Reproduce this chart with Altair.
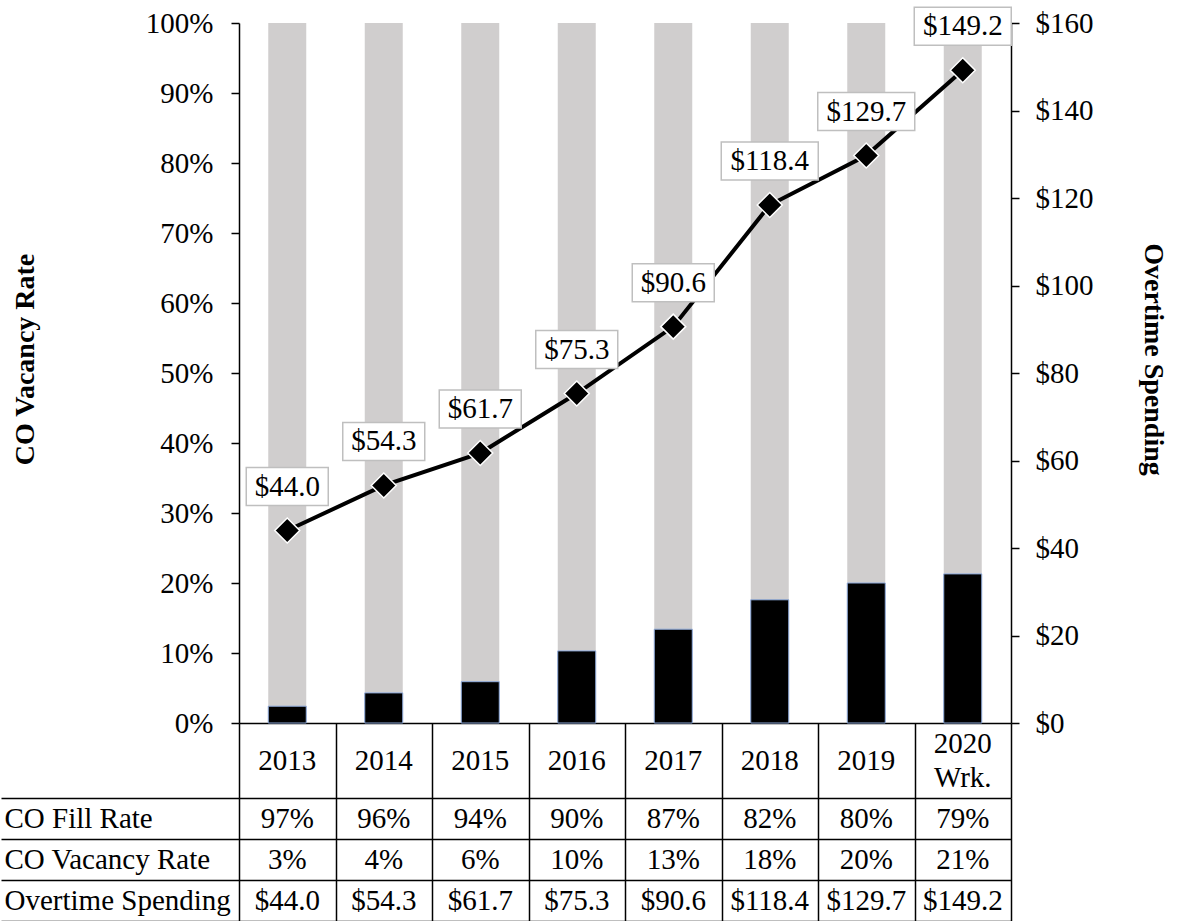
import altair as alt
import pandas as pd

# ---- data ----
years = ["2013", "2014", "2015", "2016", "2017", "2018", "2019", "2020 Wrk."]
vacancy_bar = [0.024, 0.043, 0.059, 0.103, 0.134, 0.176, 0.200, 0.213]
spending = [44.0, 54.3, 61.7, 75.3, 90.6, 118.4, 129.7, 149.2]
fill_rate_lbl = ["97%", "96%", "94%", "90%", "87%", "82%", "80%", "79%"]
vacancy_lbl = ["3%", "4%", "6%", "10%", "13%", "18%", "20%", "21%"]
spend_lbl = ["$44.0", "$54.3", "$61.7", "$75.3", "$90.6", "$118.4", "$129.7", "$149.2"]
row_names = ["CO Fill Rate", "CO Vacancy Rate", "Overtime Spending"]
pct_ticks = [0, 0.1, 0.2, 0.3, 0.4, 0.5, 0.6, 0.7, 0.8, 0.9, 1.0]
usd_ticks = [0, 20, 40, 60, 80, 100, 120, 140, 160]

FONT = "Liberation Serif"
FS = 29
TFS = 28

df = pd.DataFrame({"year": years, "vac": vacancy_bar, "spend": spending, "lbl": spend_lbl})

rows = []
for r, vals in zip(row_names, [fill_rate_lbl, vacancy_lbl, spend_lbl]):
    for y, v in zip(years, vals):
        rows.append({"row": r, "year": y, "txt": v})
tdf = pd.DataFrame(rows)

band = alt.Scale(paddingInner=0, paddingOuter=0)

x_top = alt.X(
    "year:N", sort=years, scale=band,
    axis=alt.Axis(
        title=None, orient="bottom", tickBand="extent", tickSize=75,
        tickColor="black", tickWidth=1.5, domainColor="black", domainWidth=1.5,
        labels=False,
    ),
)

left_axis = alt.Axis(
    orient="left", values=pct_ticks, format=".0%", grid=False,
    tickSize=8, tickColor="black", tickWidth=1.5, domainColor="black", domainWidth=1.5,
    labelFont=FONT, labelFontSize=FS, labelColor="black", labelPadding=18,
    title="CO Vacancy Rate", titleFont=FONT, titleFontSize=TFS, titleFontWeight="bold",
    titleColor="black", titleX=-214, titleY=336, titleAngle=270,
    titleBaseline="middle", titleAlign="center",
)
right_axis = alt.Axis(
    orient="right", values=usd_ticks, format="$.0f", grid=False,
    tickSize=8, tickColor="black", tickWidth=1.5, domainColor="black", domainWidth=1.5,
    labelFont=FONT, labelFontSize=FS, labelColor="black", labelPadding=16,
    title="Overtime Spending", titleFont=FONT, titleFontSize=TFS, titleFontWeight="bold",
    titleColor="black", titleX=141, titleY=336, titleAngle=90,
    titleBaseline="middle", titleAlign="center",
)

pct_scale = alt.Scale(domain=[0, 1])
usd_scale = alt.Scale(domain=[0, 160])

base = alt.Chart(df)

gray = base.mark_bar(color="#d0cece", size=38).encode(
    x=x_top, y=alt.Y("vac:Q", scale=pct_scale, axis=left_axis), y2=alt.datum(1)
)
black = base.mark_bar(color="black", stroke="#8eaadb", strokeWidth=1, size=38).encode(
    x=x_top, y=alt.Y("vac:Q", scale=pct_scale, axis=left_axis)
)
bars = alt.layer(gray, black)

line = base.mark_line(color="black", strokeWidth=4).encode(
    x=x_top, y=alt.Y("spend:Q", scale=usd_scale, axis=right_axis)
)
pts = base.mark_point(shape="diamond", size=625, filled=True, fill="black",
                      stroke="white", strokeWidth=1.5, opacity=1).encode(
    x=x_top, y=alt.Y("spend:Q", scale=usd_scale, axis=right_axis)
)
boxes = base.transform_calculate(
    hw="7.5*length(datum.lbl)+3.5"
).transform_calculate(
    boxpath="'M' + (-datum.hw) + ',-63L' + datum.hw + ',-63L' + datum.hw + ',-25L' + (-datum.hw) + ',-25Z'"
).mark_point(filled=True, fill="white", stroke="#bfbfbf", strokeWidth=1.5, opacity=1, size=4).encode(
    x=x_top, y=alt.Y("spend:Q", scale=usd_scale, axis=right_axis),
    shape=alt.Shape("boxpath:N", scale=None),
)
labels = base.mark_text(dy=-44, font=FONT, fontSize=FS, color="black", baseline="middle").encode(
    x=x_top, y=alt.Y("spend:Q", scale=usd_scale, axis=right_axis), text="lbl:N"
)
# header row of the table (years), drawn under the baseline
head1 = base.transform_filter("indexof(datum.year, ' ') < 0").mark_text(
    dy=37.5, font=FONT, fontSize=FS, color="black", baseline="middle"
).encode(x=x_top, y=alt.Y(datum=0, scale=usd_scale, axis=right_axis), text="year:N")
head2 = base.transform_filter("indexof(datum.year, ' ') >= 0").mark_text(
    dy=20.5, lineBreak=" ", lineHeight=34, font=FONT, fontSize=FS, color="black", baseline="middle"
).encode(x=x_top, y=alt.Y(datum=0, scale=usd_scale, axis=right_axis), text="year:N")

lines = alt.layer(line, pts, boxes, labels, head1, head2)

top = alt.layer(bars, lines).resolve_scale(y="independent").properties(width=772, height=700)

table = alt.Chart(tdf).mark_text(font=FONT, fontSize=FS, color="black", baseline="middle").encode(
    x=alt.X("year:N", sort=years, scale=band,
            axis=alt.Axis(title=None, labels=False, ticks=False, domain=False, grid=True,
                          gridColor="black", gridWidth=1.5, gridOpacity=1, tickBand="extent")),
    y=alt.Y("row:N", sort=row_names, scale=band,
            axis=alt.Axis(title=None, orient="left", domain=False, tickSize=238,
                          tickColor="black", tickWidth=1.5, tickBand="extent",
                          grid=True, gridColor="black", gridWidth=1.5, gridOpacity=1,
                          labelAlign="left", labelPadding=-3, labelFont=FONT, labelLimit=400,
                          labelFontSize=FS, labelColor="black", labelBaseline="middle")),
    text="txt:N",
).properties(width=772, height=123)

chart = alt.vconcat(top, table, spacing=75, bounds="flush").properties(
    padding={"left": 0, "top": 4, "right": 5, "bottom": 0}
).configure_view(stroke=None)

chart.save("out.html", embed_options={"renderer": "svg", "actions": False})
